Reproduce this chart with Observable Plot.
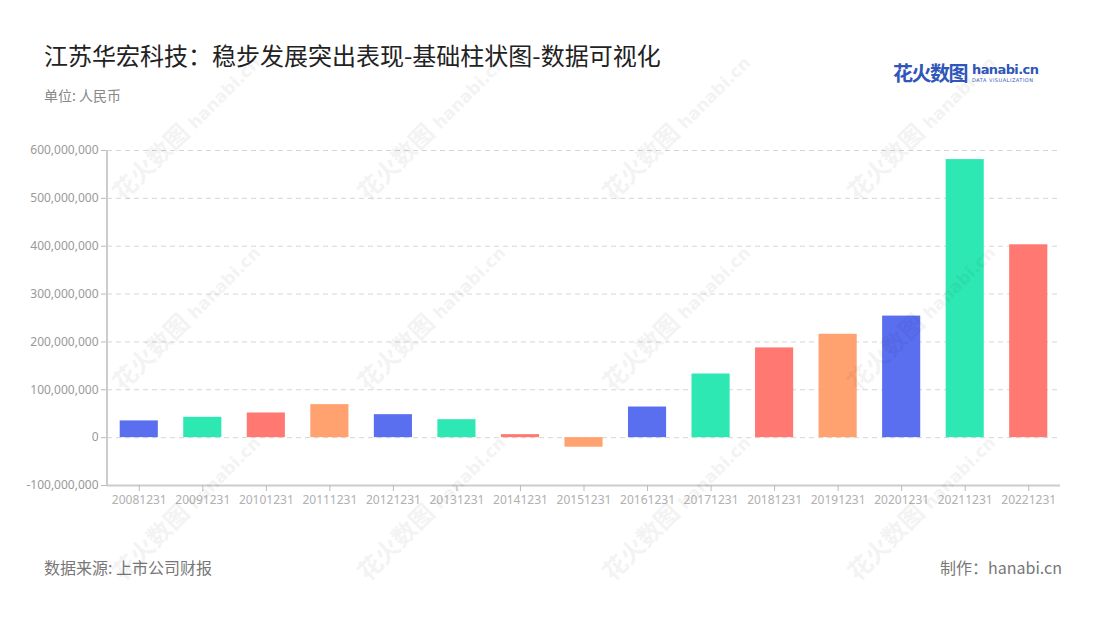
<!DOCTYPE html>
<html>
<head>
<meta charset="utf-8">
<script src="https://cdn.jsdelivr.net/npm/d3@7"></script>
<script src="https://cdn.jsdelivr.net/npm/@observablehq/plot@0.6"></script>
<style>
  html, body { margin: 0; padding: 0; background: #fff; }
  body { width: 1100px; height: 620px; position: relative; overflow: hidden; font-family: "Noto Sans CJK SC", "Noto Sans", sans-serif; }
  .title { position: absolute; left: 44px; top: 37px; font-size: 24px; color: #222; }
  .subtitle { position: absolute; left: 44px; top: 85px; font-size: 14px; color: #888; }
  .source { position: absolute; left: 44px; top: 555px; font-size: 16px; color: #777; }
  .maker { position: absolute; right: 38px; top: 555px; font-size: 16px; color: #777; }
  .logo { position: absolute; left: 893px; top: 58px; display: flex; align-items: center; }
  .logo .cn { font-size: 20px; font-weight: 700; color: #2f56b8; letter-spacing: -1.5px; }
  .logo .en { margin-left: 5px; display: flex; flex-direction: column; line-height: 1; }
  .logo .en b { font-family: "DejaVu Sans", sans-serif; font-size: 13px; color: #2f56b8; font-weight: 700; letter-spacing: -0.6px; }
  .logo .en i { font-style: normal; font-family: "DejaVu Sans", sans-serif; font-size: 5px; color: #2f56b8; letter-spacing: 0.5px; margin-top: 2px; }
  #chart { position: absolute; left: 0; top: 120px; }
  .wm { position: absolute; transform: rotate(-45deg); transform-origin: center; white-space: nowrap; color: #000; opacity: 0.045; font-weight: 700; font-size: 24px; pointer-events: none; }
  .wm span { font-family: "DejaVu Sans", sans-serif; font-size: 17px; margin-left: 6px; }
</style>
</head>
<body>
<div class="title">江苏华宏科技：稳步发展突出表现-基础柱状图-数据可视化</div>
<div class="subtitle">单位: 人民币</div>
<div class="logo"><div class="cn">花火数图</div><div class="en"><b>hanabi.cn</b><i>DATA VISUALIZATION</i></div></div>
<div id="chart"></div>
<div class="source">数据来源: 上市公司财报</div>
<div class="maker">制作：hanabi.cn</div>
<div id="wms"></div>
<script>
const categories = ["20081231","20091231","20101231","20111231","20121231","20131231","20141231","20151231","20161231","20171231","20181231","20191231","20201231","20211231","20221231"];
const values = [35000000, 42500000, 51500000, 69000000, 48000000, 37500000, 6300000, -20000000, 64000000, 133000000, 187500000, 216000000, 254000000, 581000000, 403000000];
const palette = ["#5a6ff0", "#2ee8b3", "#ff7872", "#ffa26f"];
const yTicks = [-100000000, 0, 100000000, 200000000, 300000000, 400000000, 500000000, 600000000];

const data = categories.map((c, i) => ({c, v: values[i], color: palette[i % palette.length]}));

const yAxisLine = (index, scales, values, dimensions) => {
  const line = document.createElementNS("http://www.w3.org/2000/svg", "line");
  const x = dimensions.marginLeft;
  line.setAttribute("x1", x);
  line.setAttribute("x2", x);
  line.setAttribute("y1", scales.y(yTicks[yTicks.length - 1]));
  line.setAttribute("y2", scales.y(yTicks[0]));
  line.setAttribute("stroke", "#cccccc");
  line.setAttribute("stroke-width", 2);
  return line;
};

const chart = Plot.plot({
  width: 1100,
  height: 400,
  marginTop: 30,
  marginBottom: 35,
  marginLeft: 107,
  marginRight: 40,
  style: {fontFamily: "'Noto Sans', 'Noto Sans CJK SC', sans-serif", fontSize: "12px", background: "transparent", overflow: "visible"},
  x: {domain: categories, paddingInner: 0.4, paddingOuter: 0.2, round: false, label: null},
  y: {domain: [-100000000, 600000000], label: null},
  marks: [
    Plot.gridY(yTicks.filter(d => d !== -100000000), {stroke: "#d6d6d6", strokeOpacity: 1, strokeDasharray: "5,4", strokeWidth: 1}),
    Plot.barY(data, {x: "c", y: "v", fill: d => d.color}),
    Plot.ruleY([-100000000], {stroke: "#cccccc", strokeWidth: 2}),
    Plot.axisY(yTicks, {tickSize: 6, tickPadding: 3, stroke: "#bbbbbb", strokeOpacity: 1, fill: "#999", fontSize: 12, tickFormat: d => d.toLocaleString("en-US"), label: null}),
    Plot.axisX({tickSize: 6, tickPadding: 4, stroke: "#bbbbbb", strokeOpacity: 1, fill: "#b0b0b0", fontSize: 12, label: null}),
    yAxisLine
  ]
});
document.getElementById("chart").appendChild(chart);

// faint watermarks
const wmCols = [185, 430, 675, 920];
const wmRows = [125, 315, 505];
const wms = document.getElementById("wms");
for (const y of wmRows) for (const x of wmCols) {
  const d = document.createElement("div");
  d.className = "wm";
  d.innerHTML = "花火数图<span>hanabi.cn</span>";
  wms.appendChild(d);
  const w = d.offsetWidth, h = d.offsetHeight;
  d.style.left = (x - w / 2) + "px";
  d.style.top = (y - h / 2) + "px";
}
</script>
</body>
</html>
